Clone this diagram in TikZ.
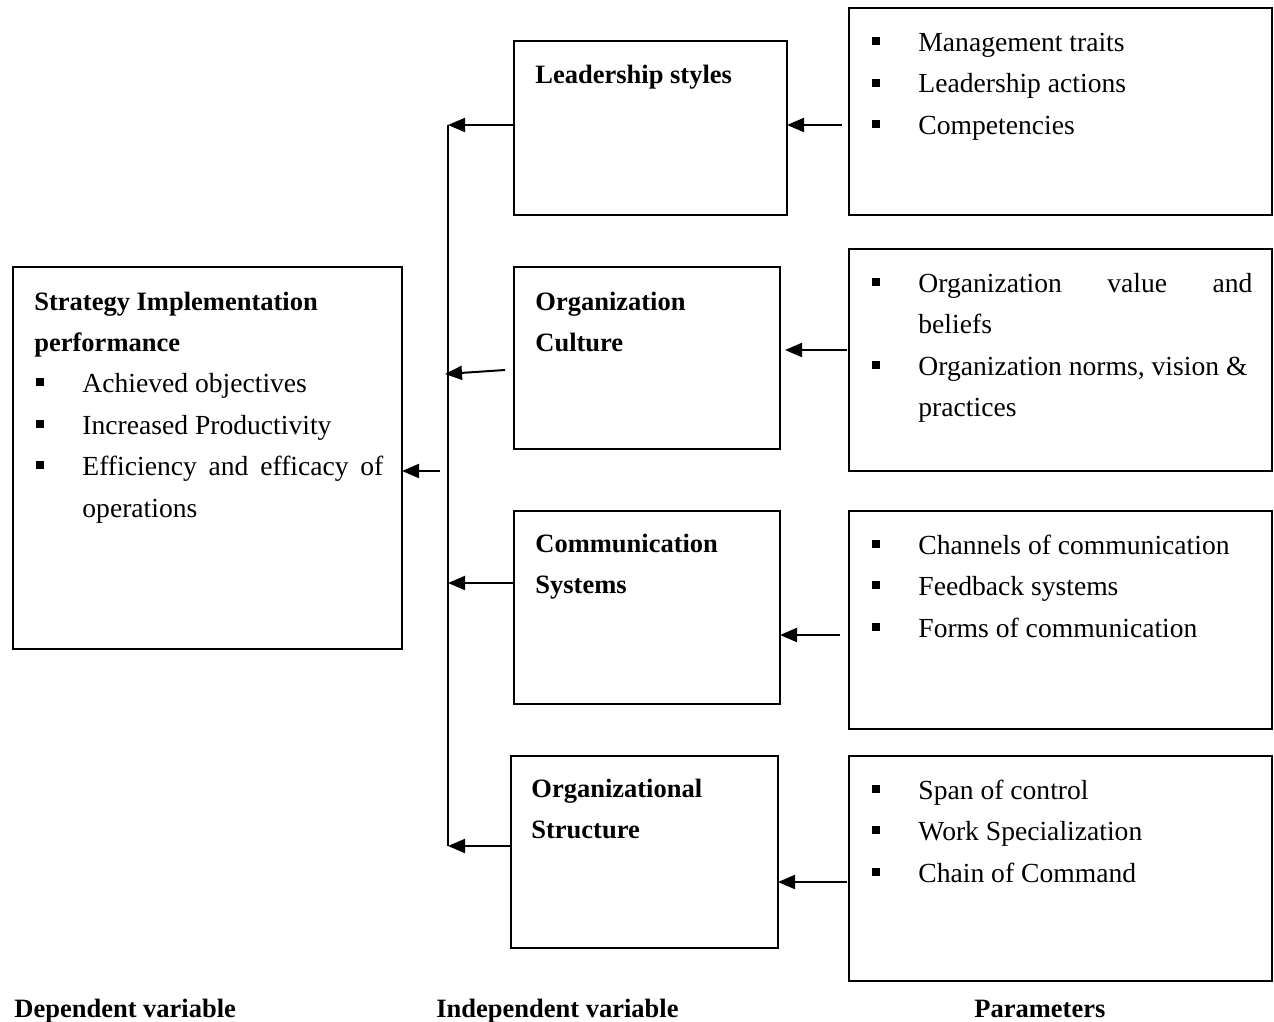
\documentclass[tikz,border=0pt]{standalone}
\usepackage{fontspec}
\setmainfont{Liberation Serif}
\usetikzlibrary{arrows.meta}
\begin{document}
\begin{tikzpicture}[x=0.5pt,y=-0.5pt,
  box/.style={draw,line width=1pt,rectangle,inner sep=0pt,outer sep=0pt,anchor=north west},
  txt/.style={anchor=base west,inner sep=0pt,font=\fontsize{13.8}{16}\selectfont},
  btxt/.style={anchor=base west,inner sep=0pt,font=\fontsize{13.25}{16}\selectfont\bfseries},
  bul/.style={rectangle,fill=black,inner sep=0pt,minimum size=4pt},
  arr/.style={line width=1pt,-{Triangle[length=8.5pt,width=7pt]}},
  ln/.style={line width=1pt}]
\useasboundingbox (0,0) rectangle (1274,1022);
% boxes
\node[box,minimum width=194.5pt,minimum height=191pt] (dep) at (13,267) {};
\node[box,minimum width=136.5pt,minimum height=87pt] (lead) at (514,41) {};
\node[box,minimum width=133pt,minimum height=91pt] (cult) at (514,267) {};
\node[box,minimum width=133pt,minimum height=96.5pt] (comm) at (514,511) {};
\node[box,minimum width=133.5pt,minimum height=96pt] (strc) at (511,756) {};
\node[box,minimum width=211.5pt,minimum height=103.5pt] (p1) at (849,8) {};
\node[box,minimum width=211.5pt,minimum height=111pt] (p2) at (849,249) {};
\node[box,minimum width=211.5pt,minimum height=109pt] (p3) at (849,511) {};
\node[box,minimum width=211.5pt,minimum height=112.5pt] (p4) at (849,756) {};
% left box text
\node[btxt] (d1) at (34,310) {Strategy Implementation};
\node[btxt] (d2) at (34,351) {performance};
\node[bul] (db1) at (40,382) {};
\node[txt] (d3) at (82,392.5) {Achieved objectives};
\node[bul] (db2) at (40,424) {};
\node[txt] (d4) at (82,434) {Increased Productivity};
\node[bul] (db3) at (40,465) {};
\node[txt] (d5) at (82,475.5) {\makebox[150.5pt][s]{Efficiency and efficacy of}};
\node[txt] (d6) at (82,517) {operations};
% independent texts
\node[btxt] (l1) at (535,84) {Leadership styles};
\node[btxt] (c1) at (535,310) {Organization};
\node[btxt] (c2) at (535,351) {Culture};
\node[btxt] (m1) at (535,552) {Communication};
\node[btxt] (m2) at (535,593) {Systems};
\node[btxt] (s1) at (531,797) {Organizational};
\node[btxt] (s2) at (531,838) {Structure};
% parameter texts
\node[bul] (pb1) at (876,41) {};
\node[txt] (q1) at (918,51.5) {Management traits};
\node[bul] (pb2) at (876,83) {};
\node[txt] (q2) at (918,93) {Leadership actions};
\node[bul] (pb3) at (876,124) {};
\node[txt] (q3) at (918,134.5) {Competencies};
\node[bul] (pb4) at (876,282) {};
\node[txt] (q4) at (918,292) {\makebox[167pt][s]{Organization\hfill value\hfill and}};
\node[txt] (q5) at (918,333.5) {beliefs};
\node[bul] (pb5) at (876,365) {};
\node[txt] (q6) at (918,375) {Organization norms, vision \&};
\node[txt] (q7) at (918,416.5) {practices};
\node[bul] (pb6) at (876,544) {};
\node[txt] (q8) at (918,554) {Channels of communication};
\node[bul] (pb7) at (876,585) {};
\node[txt] (q9) at (918,595.5) {Feedback systems};
\node[bul] (pb8) at (876,627) {};
\node[txt] (q10) at (918,637) {Forms of communication};
\node[bul] (pb9) at (876,789) {};
\node[txt] (q11) at (918,799) {Span of control};
\node[bul] (pb10) at (876,830) {};
\node[txt] (q12) at (918,840.5) {Work Specialization};
\node[bul] (pb11) at (876,872) {};
\node[txt] (q13) at (918,882) {Chain of Command};
% bottom labels
\node[btxt] (b1) at (14,1017) {Dependent variable};
\node[btxt] (b2) at (436,1017) {Independent variable};
\node[btxt] (b3) at (974,1017) {Parameters};
% spine
\coordinate (sp1) at (448,125);
\coordinate (sp2) at (445,374);
\coordinate (sp3) at (448,583);
\coordinate (sp4) at (448,846);
\coordinate (spm) at (440,471);
\coordinate (cs) at (505,370);
\draw[ln] (sp1) -- (sp4);
\draw[arr] (lead.west |- sp1) -- (sp1);
\draw[arr] (cs) -- (sp2);
\draw[arr] (comm.west |- sp3) -- (sp3);
\draw[arr] (strc.west |- sp4) -- (sp4);
\draw[arr] (spm) -- (dep.east |- spm);
% parameter arrows
\coordinate (a1) at (842,125);
\coordinate (a2) at (847,350);
\coordinate (a3) at (840,635);
\coordinate (a4) at (847,882);
\draw[arr] (a1) -- (lead.east |- a1);
\draw[arr] (a2) -- ([xshift=2.5pt]cult.east |- a2);
\draw[arr] (a3) -- (comm.east |- a3);
\draw[arr] (a4) -- (strc.east |- a4);
\end{tikzpicture}
\end{document}
